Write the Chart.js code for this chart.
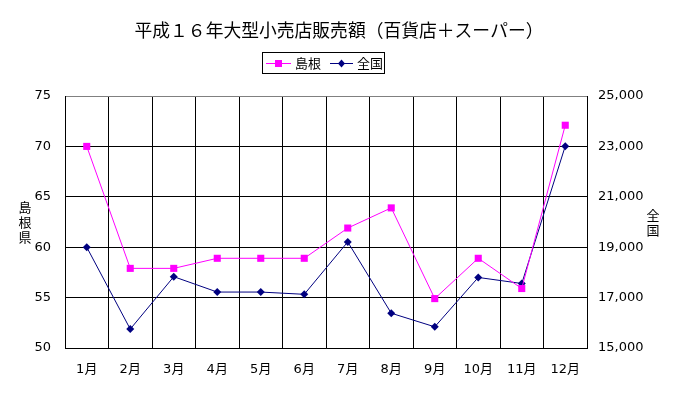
<!DOCTYPE html>
<html>
<head>
<meta charset="utf-8">
<script src="https://cdn.jsdelivr.net/npm/chart.js@4/dist/chart.umd.min.js"></script>
<style>
html,body{margin:0;padding:0;background:#fff;}
#wrap{width:678px;height:395px;position:relative;}
</style>
</head>
<body>
<div id="wrap"><canvas id="c" width="678" height="395"></canvas></div>
<script>
const titleText = '平成１６年大型小売店販売額（百貨店＋スーパー）';
const months = ['1月','2月','3月','4月','5月','6月','7月','8月','9月','10月','11月','12月'];
const shimane = [70.0, 57.9, 57.9, 58.9, 58.9, 58.9, 61.9, 63.9, 54.9, 58.9, 55.9, 72.1];
const zenkoku = [19000, 15750, 17830, 17220, 17220, 17130, 19210, 16380, 15840, 17800, 17560, 23010];
const leftTitle = ['島','根','県'];
const rightTitle = ['全','国'];
const seriesNames = ['島根','全国'];

const FONT = '"Noto Sans CJK JP", "Noto Sans", sans-serif';
const NUMFONT = '"DejaVu Sans", "Noto Sans CJK JP", sans-serif';

const decor = {
  id: 'decor',
  afterDraw(chart) {
    const ctx = chart.ctx;
    ctx.save();
    // title
    ctx.fillStyle = '#000';
    ctx.font = '17.8px ' + FONT;
    ctx.textAlign = 'center';
    ctx.textBaseline = 'middle';
    ctx.fillText(titleText, 339, 30);
    // axis titles
    ctx.font = '13px ' + FONT;
    leftTitle.forEach((ch, i) => ctx.fillText(ch, 25, 207 + i * 15));
    rightTitle.forEach((ch, i) => ctx.fillText(ch, 653, 215 + i * 15));
    // legend box
    const bx = 262.5, by = 52.5, bw = 122, bh = 21;
    ctx.strokeStyle = '#000';
    ctx.lineWidth = 1;
    ctx.strokeRect(bx, by, bw, bh);
    const ds = chart.data.datasets;
    const items = [{x0: 266, x1: 291, tx: 295}, {x0: 330, x1: 353, tx: 357}];
    const cy = 63;
    items.forEach((it, i) => {
      const d = ds[i];
      ctx.strokeStyle = d.borderColor;
      ctx.lineWidth = 1;
      ctx.beginPath();
      ctx.moveTo(it.x0, cy + 0.5);
      ctx.lineTo(it.x1, cy + 0.5);
      ctx.stroke();
      const mx = (it.x0 + it.x1) / 2;
      ctx.fillStyle = d.pointBackgroundColor;
      if (d.pointStyle === 'rect') {
        ctx.fillRect(mx - 3.5, cy - 3, 7, 7);
      } else {
        ctx.beginPath();
        ctx.moveTo(mx, cy - 3.5);
        ctx.lineTo(mx + 3.5, cy + 0.5);
        ctx.lineTo(mx, cy + 4.5);
        ctx.lineTo(mx - 3.5, cy + 0.5);
        ctx.closePath();
        ctx.fill();
      }
      ctx.fillStyle = '#000';
      ctx.textAlign = 'left';
      ctx.font = '13px ' + FONT;
      ctx.fillText(d.label, it.tx, cy + 0.5);
    });
    ctx.restore();
  }
};

new Chart(document.getElementById('c'), {
  type: 'line',
  data: {
    labels: months,
    datasets: [
      {
        label: seriesNames[0],
        data: shimane,
        yAxisID: 'y',
        borderColor: '#FF00FF',
        backgroundColor: '#FF00FF',
        pointBackgroundColor: '#FF00FF',
        pointBorderColor: '#FF00FF',
        pointStyle: 'rect',
        pointRadius: 5,
        pointBorderWidth: 0,
        borderWidth: 1,
        tension: 0
      },
      {
        label: seriesNames[1],
        data: zenkoku,
        yAxisID: 'y2',
        borderColor: '#000080',
        backgroundColor: '#000080',
        pointBackgroundColor: '#000080',
        pointBorderColor: '#000080',
        pointStyle: 'rectRot',
        pointRadius: 4,
        pointBorderWidth: 0,
        borderWidth: 1,
        tension: 0
      }
    ]
  },
  plugins: [decor],
  options: {
    responsive: false,
    animation: false,
    devicePixelRatio: 1,
    layout: { padding: { top: 96, left: 0, right: 0, bottom: 0 } },
    plugins: {
      legend: { display: false },
      title: { display: false },
      tooltip: { enabled: false }
    },
    scales: {
      x: {
        offset: true,
        grid: { offset: true, color: '#000', lineWidth: 1, drawTicks: false },
        border: { color: '#000', width: 1 },
        ticks: { color: '#000', font: { family: NUMFONT, size: 13 }, padding: 14, maxRotation: 0, autoSkip: false },
        afterFit(s) { s.height = 47; }
      },
      y: {
        position: 'left',
        min: 50, max: 75,
        ticks: { stepSize: 5, color: '#000', font: { family: NUMFONT, size: 13 }, padding: 14 },
        grid: {
          drawTicks: false,
          lineWidth: 1,
          color: (c) => (c.tick && c.tick.value === 75) ? '#808080' : '#000'
        },
        border: { color: '#000', width: 1 },
        afterFit(s) { s.width = 65; }
      },
      y2: {
        position: 'right',
        min: 15000, max: 25000,
        ticks: {
          stepSize: 2000, color: '#000', font: { family: NUMFONT, size: 13 }, padding: 11,
          callback: (v) => v.toLocaleString('en-US')
        },
        grid: { display: false, drawTicks: false },
        border: { color: '#000', width: 1 },
        afterFit(s) { s.width = 91; }
      }
    }
  }
});
</script>
</body>
</html>
